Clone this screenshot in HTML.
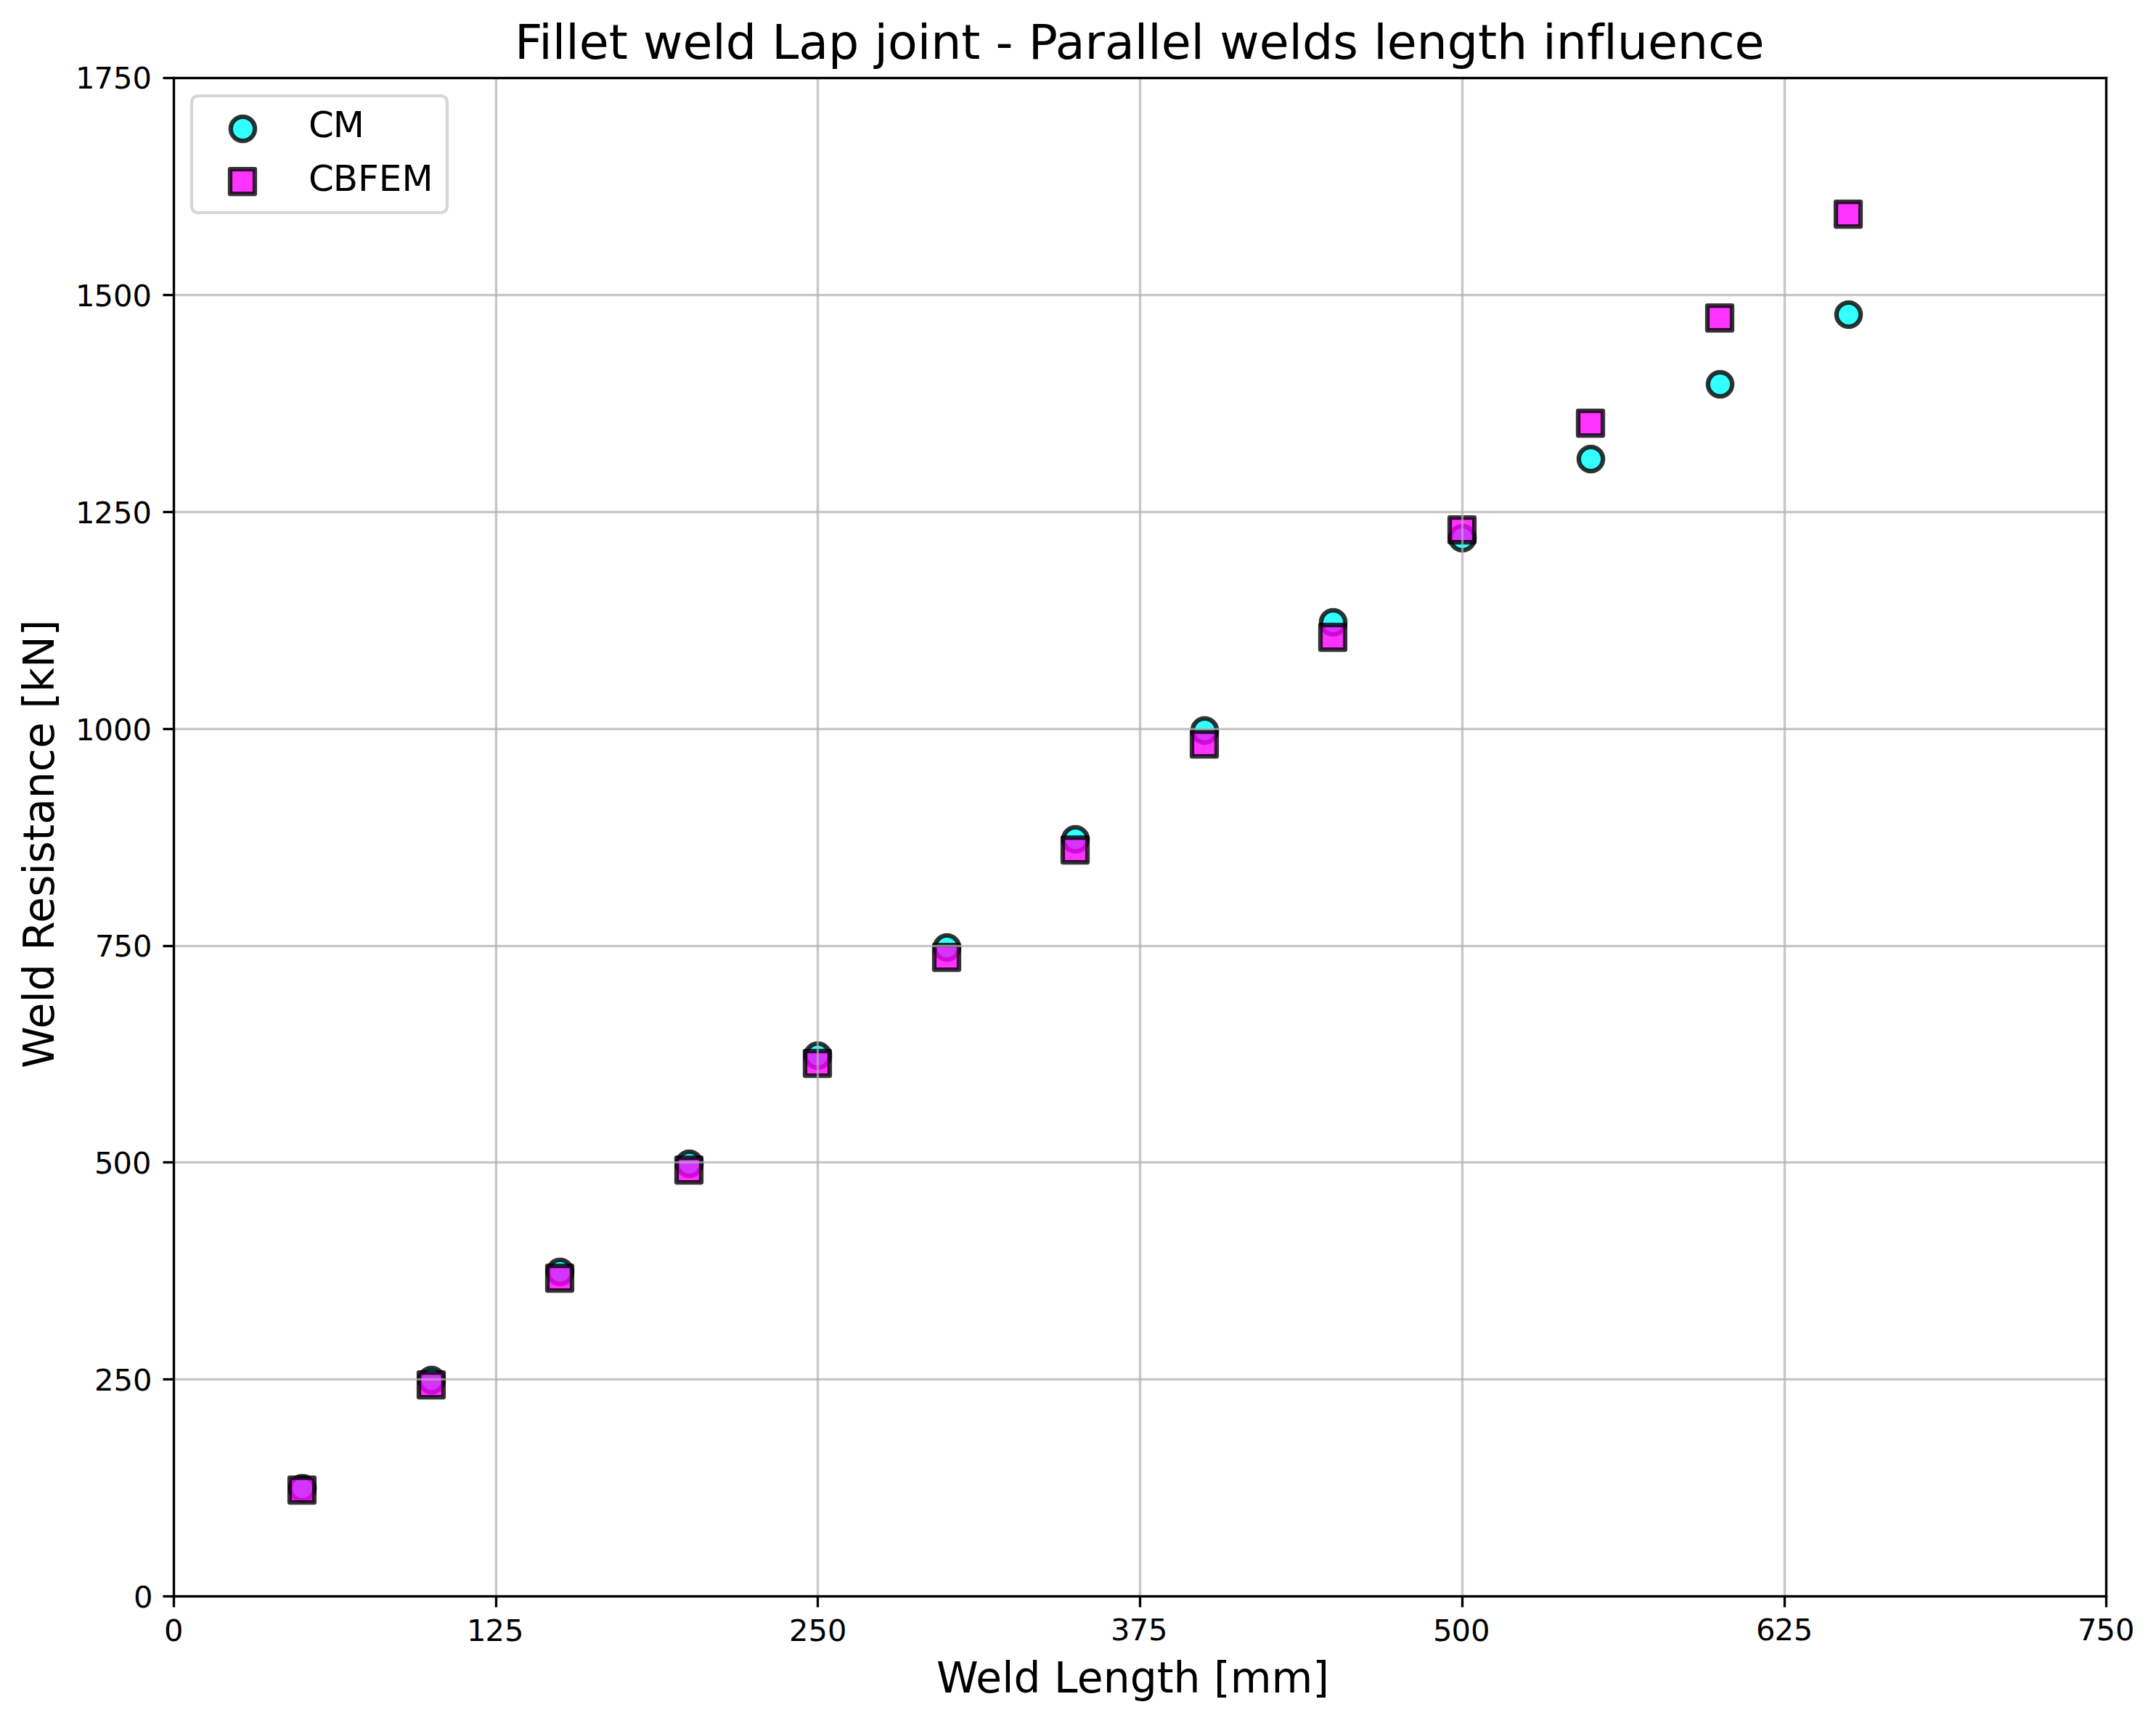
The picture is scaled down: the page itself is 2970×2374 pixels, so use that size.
<!DOCTYPE html>
<html lang="en">
<head>
<meta charset="utf-8">
<title>Fillet weld Lap joint - Parallel welds length influence</title>
<style>
html,body{margin:0;padding:0;background:#fff;}
body{width:2970px;height:2374px;overflow:hidden;}
svg{display:block;}
text{font-family:"DejaVu Sans","Liberation Sans",sans-serif;fill:#000;font-variant-ligatures:none;font-kerning:none;white-space:pre;}
.t10{font-size:41.6667px;}
.t12{font-size:50px;}
.t14{font-size:58.3333px;}
.t16{font-size:66.6667px;}
.grid{fill:#afafaf;fill-opacity:0.7;stroke:none;}
.ax{fill:#000;stroke:none;}
.cm{fill:#00ffff;fill-opacity:0.8;stroke:#000;stroke-opacity:0.8;stroke-width:6.25;}
.cb{fill:#ff00ff;fill-opacity:0.8;stroke:#000;stroke-opacity:0.8;stroke-width:6.25;stroke-linejoin:round;}
</style>
</head>
<body>
<svg width="2970" height="2374" viewBox="0 0 2970 2374">
<rect x="0" y="0" width="2970" height="2374" fill="#ffffff"/>
<defs><clipPath id="axclip"><rect x="238.833" y="107.000" width="2662.417" height="2092.167"/></clipPath></defs>
<!-- scatter: CM (circles) then CBFEM (squares) -->
<g clip-path="url(#axclip)">
<g class="cm">
<circle cx="416.5" cy="2050.5" r="16.6667"/>
<circle cx="594.5" cy="1901.5" r="16.6667"/>
<circle cx="771.5" cy="1752.5" r="16.6667"/>
<circle cx="949.5" cy="1603.5" r="16.6667"/>
<circle cx="1126.5" cy="1454.5" r="16.6667"/>
<circle cx="1304.5" cy="1305.5" r="16.6667"/>
<circle cx="1481.5" cy="1156.5" r="16.6667"/>
<circle cx="1659.5" cy="1006.5" r="16.6667"/>
<circle cx="1836.5" cy="857.5" r="16.6667"/>
<circle cx="2014.5" cy="741.5" r="16.6667"/>
<circle cx="2191.5" cy="632.5" r="16.6667"/>
<circle cx="2369.5" cy="529.5" r="16.6667"/>
<circle cx="2546.5" cy="433.5" r="16.6667"/>
</g>
<g class="cb">
<rect x="399" y="2036" width="34" height="34"/>
<rect x="577" y="1891" width="34" height="34"/>
<rect x="754" y="1744" width="34" height="34"/>
<rect x="932" y="1595" width="34" height="34"/>
<rect x="1109" y="1448" width="34" height="34"/>
<rect x="1287" y="1302" width="34" height="34"/>
<rect x="1464" y="1154" width="34" height="34"/>
<rect x="1642" y="1008" width="34" height="34"/>
<rect x="1819" y="861" width="34" height="34"/>
<rect x="1997" y="713" width="34" height="34"/>
<rect x="2174" y="566" width="34" height="34"/>
<rect x="2352" y="421" width="34" height="34"/>
<rect x="2529" y="278" width="34" height="34"/>
</g>
<!-- grid (drawn above markers, as in matplotlib zorder) -->
<g class="grid">
<rect x="237.8333" y="107.0000" width="3.3333" height="2092.1667"/>
<rect x="681.8333" y="107.0000" width="3.3333" height="2092.1667"/>
<rect x="1124.8333" y="107.0000" width="3.3333" height="2092.1667"/>
<rect x="1568.8333" y="107.0000" width="3.3333" height="2092.1667"/>
<rect x="2012.8333" y="107.0000" width="3.3333" height="2092.1667"/>
<rect x="2456.8333" y="107.0000" width="3.3333" height="2092.1667"/>
<rect x="2899.8333" y="107.0000" width="3.3333" height="2092.1667"/>
<rect x="238.8333" y="2197.8333" width="2662.4167" height="3.3333"/>
<rect x="238.8333" y="1898.8333" width="2662.4167" height="3.3333"/>
<rect x="238.8333" y="1599.8333" width="2662.4167" height="3.3333"/>
<rect x="238.8333" y="1301.8333" width="2662.4167" height="3.3333"/>
<rect x="238.8333" y="1002.8333" width="2662.4167" height="3.3333"/>
<rect x="238.8333" y="703.8333" width="2662.4167" height="3.3333"/>
<rect x="238.8333" y="404.8333" width="2662.4167" height="3.3333"/>
<rect x="238.8333" y="105.8333" width="2662.4167" height="3.3333"/>
</g>
</g>
<!-- ticks and spines -->
<g class="ax">
<rect x="237.8333" y="2199.5000" width="3.3333" height="15.0000"/>
<rect x="681.8333" y="2199.5000" width="3.3333" height="15.0000"/>
<rect x="1124.8333" y="2199.5000" width="3.3333" height="15.0000"/>
<rect x="1568.8333" y="2199.5000" width="3.3333" height="15.0000"/>
<rect x="2012.8333" y="2199.5000" width="3.3333" height="15.0000"/>
<rect x="2456.8333" y="2199.5000" width="3.3333" height="15.0000"/>
<rect x="2899.8333" y="2199.5000" width="3.3333" height="15.0000"/>
<rect x="224.5000" y="2197.8333" width="15.0000" height="3.3333"/>
<rect x="224.5000" y="1898.8333" width="15.0000" height="3.3333"/>
<rect x="224.5000" y="1599.8333" width="15.0000" height="3.3333"/>
<rect x="224.5000" y="1301.8333" width="15.0000" height="3.3333"/>
<rect x="224.5000" y="1002.8333" width="15.0000" height="3.3333"/>
<rect x="224.5000" y="703.8333" width="15.0000" height="3.3333"/>
<rect x="224.5000" y="404.8333" width="15.0000" height="3.3333"/>
<rect x="224.5000" y="105.8333" width="15.0000" height="3.3333"/>
<rect x="237.8333" y="105.8333" width="3.3333" height="2095.3333"/>
<rect x="2899.8333" y="105.8333" width="3.3333" height="2095.3333"/>
<rect x="237.8333" y="105.8333" width="2665.3333" height="3.3333"/>
<rect x="237.8333" y="2197.8333" width="2665.3333" height="3.3333"/>
</g>
<!-- tick labels -->
<text class="t10" x="225.92" y="2261.00">0</text>
<text class="t10" x="643.05 668.55 694.93" y="2261.00">125</text>
<text class="t10" x="1087.12 1113.49 1139.99" y="2261.00">250</text>
<text class="t10" x="1530.06 1555.69 1582.06" y="2260.00">375</text>
<text class="t10" x="1973.99 1999.49 2025.99" y="2261.00">500</text>
<text class="t10" x="2418.95 2444.45 2470.82" y="2260.00">625</text>
<text class="t10" x="2862.07 2887.44 2913.94" y="2260.00">750</text>
<text class="t10" x="183.89" y="2215.00">0</text>
<text class="t10" x="130.09 156.47 182.97" y="1916.00">250</text>
<text class="t10" x="129.90 155.40 181.90" y="1617.00">500</text>
<text class="t10" x="131.05 156.43 182.93" y="1318.00">750</text>
<text class="t10" x="103.96 129.46 155.96 182.46" y="1020.00">1000</text>
<text class="t10" x="104.11 129.61 155.99 182.49" y="721.00">1250</text>
<text class="t10" x="103.89 129.39 155.89 182.39" y="422.00">1500</text>
<text class="t10" x="104.12 129.62 156.00 182.50" y="122.00">1750</text>
<!-- axis labels and title -->
<text class="t14" x="1289.93 1344.31 1380.31 1396.56 1433.56 1452.06 1483.68 1519.68 1556.68 1593.68 1616.56 1653.56 1672.06 1694.81 1751.56 1808.31 1831.06" y="2332.00">Weld Length [mm] </text>
<text class="t14" transform="translate(79.00 1153.08) rotate(-90)" x="-318.80 -264.43 -228.43 -212.18 -175.18 -156.68 -118.68 -82.68 -52.30 -36.05 -5.68 17.20 52.95 89.95 122.07 158.07 176.57 199.32 233.07 276.70 299.45" y="-5.00">Weld Resistance [kN] </text>
<text class="t16" x="708.88 742.25 760.75 779.25 797.75 838.63 864.75 885.88 940.38 981.25 999.75 1042.00 1063.13 1100.25 1141.00 1183.25 1204.38 1222.88 1263.63 1282.13 1324.25 1350.38 1371.50 1395.50 1416.63 1453.75 1494.50 1521.88 1562.63 1581.13 1599.63 1640.50 1659.00 1680.13 1734.63 1775.50 1794.00 1836.25 1871.00 1892.13 1910.63 1951.50 1993.63 2035.88 2062.00 2104.13 2125.25 2143.75 2185.88 2209.25 2227.75 2269.88 2310.75 2352.88 2389.50" y="81.00">Fillet weld Lap joint - Parallel welds length influence</text>
<!-- legend -->
<path d="M274 132H606Q616 132 616 142V283Q616 293 606 293H274Q264 293 264 283V142Q264 132 274 132Z" fill="#fff" fill-opacity="0.8" stroke="#cccccc" stroke-opacity="0.8" stroke-width="4.1667"/>
<circle class="cm" cx="334.5" cy="177.5" r="16.6667"/>
<rect class="cb" x="317" y="233" width="34" height="34"/>
<text class="t12" x="424.92 458.80" y="189.00">CM</text>
<text class="t12" x="424.97 458.85 493.10 521.85 553.47" y="263.00">CBFEM</text>
</svg>
</body>
</html>
